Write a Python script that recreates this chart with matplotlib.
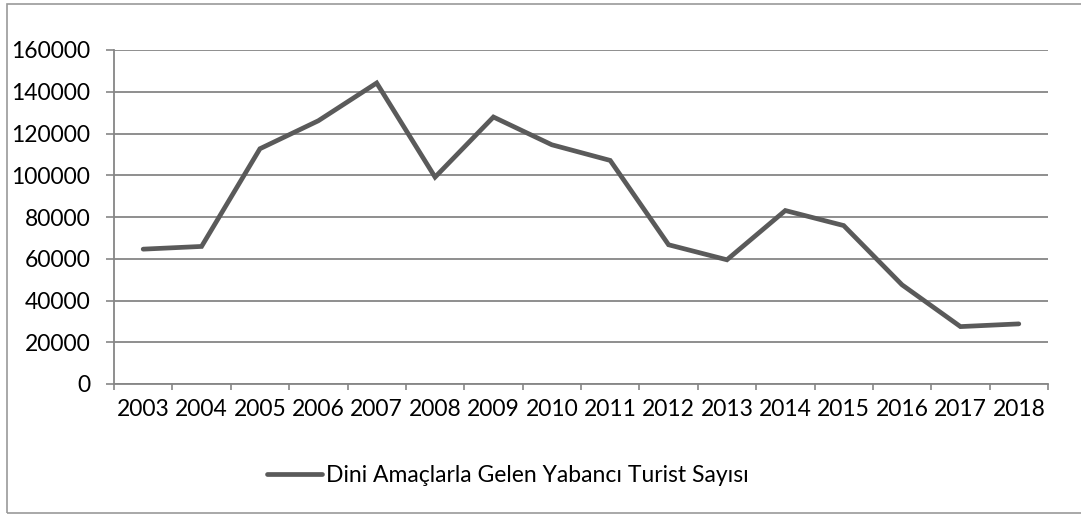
import matplotlib
matplotlib.use("Agg")

import matplotlib.pyplot as plt
from matplotlib.patches import Rectangle
from matplotlib.ticker import FixedLocator

years = ["2003", "2004", "2005", "2006", "2007", "2008", "2009", "2010",
         "2011", "2012", "2013", "2014", "2015", "2016", "2017", "2018"]
tourists = [64600, 65900, 112700, 126100, 144200, 99100, 127900, 114600,
            107100, 66700, 59500, 83100, 75900, 47500, 27500, 28800]
yticks = [0, 20000, 40000, 60000, 80000, 100000, 120000, 140000, 160000]
series_name = "Dini Amaçlarla Gelen Yabancı Turist Sayısı"

plt.rcParams["font.family"] = ["Lato", "DejaVu Sans"]

grid_col = "#868686"
line_col = "#5a5a5a"
fsize = 16.5

fig = plt.figure(figsize=(10.81, 5.14), dpi=100)

# chart border
fig.patches.append(Rectangle((7 / 1081, 1 / 514), 1.2, 509 / 514,
                             transform=fig.transFigure, fill=False,
                             edgecolor="#9a9a9a", linewidth=1.2))

ax = fig.add_axes([114 / 1081, 1 - 384 / 514, 934 / 1081, 334 / 514])

x = list(range(len(years)))
line, = ax.plot(x, tourists, color=line_col, linewidth=3.4,
                solid_capstyle="round", solid_joinstyle="miter",
                label=series_name)

ax.set_ylim(0, 160000)
ax.set_xlim(-0.5, len(years) - 0.5)

ax.set_yticks(yticks)
ax.set_yticklabels([str(v) for v in yticks])
ax.yaxis.grid(True, color=grid_col, linewidth=1.3)
ax.set_axisbelow(True)

ax.set_xticks(x)
ax.set_xticklabels(years)
ax.xaxis.set_minor_locator(FixedLocator([i - 0.5 for i in range(len(years) + 1)]))

ax.tick_params(axis="y", length=6, width=1.2, color=grid_col, pad=11,
               labelsize=fsize)
ax.tick_params(axis="x", which="major", length=0, pad=11, labelsize=fsize)
ax.tick_params(axis="x", which="minor", length=4.5, width=1.2, color=grid_col)

for s in ["top", "right"]:
    ax.spines[s].set_visible(False)
for s in ["left", "bottom"]:
    ax.spines[s].set_color(grid_col)
    ax.spines[s].set_linewidth(1.3)

fig.legend(handles=[line], loc="center left",
           bbox_to_anchor=(256 / 1081, 1 - 476 / 514),
           frameon=False, fontsize=fsize, handlelength=2.4, handletextpad=0.15,
           borderpad=0)

fig.savefig("out.png", dpi=100)
